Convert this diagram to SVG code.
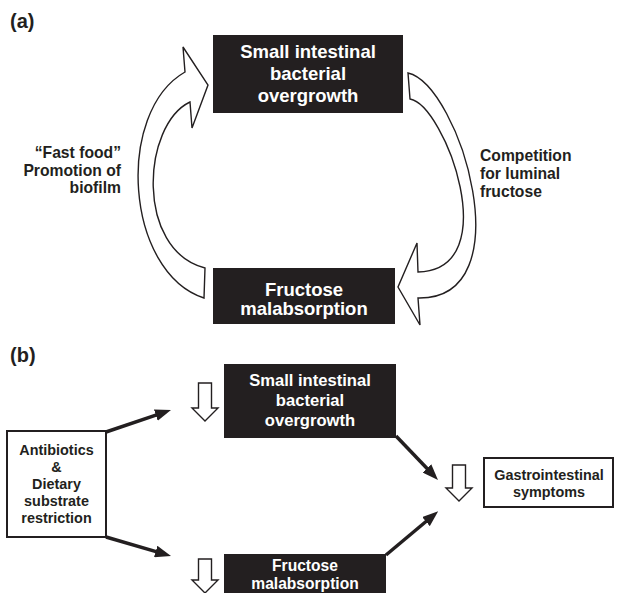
<svg xmlns="http://www.w3.org/2000/svg" width="617" height="593" viewBox="0 0 617 593">
<defs>
<style>
.lbl{font-family:"Liberation Sans",Arial,sans-serif;font-weight:bold;fill:#231f20}
.big{font-size:20px}
.side{font-size:15.7px}
.bx{fill:#231f20}
.bxt{font-family:"Liberation Sans",Arial,sans-serif;font-weight:bold;fill:#fff;text-anchor:middle}
.wbox{fill:#fff;stroke:#231f20;stroke-width:2}
.hollow{fill:#fff;stroke:#231f20;stroke-width:1.4;stroke-linejoin:miter}
.conn{stroke:#231f20;stroke-width:3.5;fill:none}
</style>
<marker id="ah" viewBox="0 0 16 12" markerWidth="16" markerHeight="12" refX="4" refY="6" orient="auto" markerUnits="userSpaceOnUse">
<path d="M0,0 L16,6 L0,12 Z" fill="#231f20"/>
</marker>
</defs>
<rect width="617" height="593" fill="#fff"/>

<text class="lbl big" x="10" y="28">(a)</text>
<text class="lbl big" x="10" y="362">(b)</text>

<g id="a-sibo">
<rect class="bx" x="213" y="35" width="190" height="78"/>
<text class="bxt" font-size="18.5" x="308" y="58">Small intestinal</text>
<text class="bxt" font-size="18.5" x="308" y="80">bacterial</text>
<text class="bxt" font-size="18.5" x="308" y="102">overgrowth</text>
</g>

<g id="a-fm">
<rect class="bx" x="213" y="268" width="182" height="56"/>
<text class="bxt" font-size="18.5" x="304" y="296">Fructose</text>
<text class="bxt" font-size="18.5" x="304" y="315">malabsorption</text>
</g>

<g id="a-connectors">
<path class="hollow" d="M204,298 C125,272 115,112 185,72 L183,47 L208,85 L192,128 L190,102 C142,125 135,250 205,268 Z"/>
<path class="hollow" d="M408,73 C460,85 525,300 418,298 L420,325 L398,287 L417,243 L418,272 C506,270 445,105 410,99 Z"/>
</g>

<g id="a-left-label">
<text class="lbl side" text-anchor="end" x="121" y="158">“Fast food”</text>
<text class="lbl side" text-anchor="end" x="121" y="175.5">Promotion of</text>
<text class="lbl side" text-anchor="end" x="121" y="193">biofilm</text>
</g>

<g id="a-right-label">
<text class="lbl side" x="480" y="161">Competition</text>
<text class="lbl side" x="480" y="179">for luminal</text>
<text class="lbl side" x="480" y="197">fructose</text>
</g>

<g id="b-sibo">
<rect class="bx" x="224" y="364" width="172" height="74"/>
<text class="bxt" font-size="16.6" x="310" y="386">Small intestinal</text>
<text class="bxt" font-size="16.6" x="310" y="406">bacterial</text>
<text class="bxt" font-size="16.6" x="310" y="426">overgrowth</text>
</g>

<g id="b-fm">
<rect class="bx" x="224" y="554" width="162" height="42"/>
<text class="bxt" font-size="15.6" x="305" y="571">Fructose</text>
<text class="bxt" font-size="15.6" x="305" y="589">malabsorption</text>
</g>

<g id="b-treat">
<rect class="wbox" x="7" y="431" width="99" height="106"/>
<text class="lbl" font-size="14.4" text-anchor="middle" x="56.5" y="455">Antibiotics</text>
<text class="lbl" font-size="14.4" text-anchor="middle" x="56.5" y="472">&amp;</text>
<text class="lbl" font-size="14.4" text-anchor="middle" x="56.5" y="489">Dietary</text>
<text class="lbl" font-size="14.4" text-anchor="middle" x="56.5" y="506">substrate</text>
<text class="lbl" font-size="14.4" text-anchor="middle" x="56.5" y="523">restriction</text>
</g>

<g id="b-gi">
<rect class="wbox" x="484" y="458" width="129" height="49"/>
<text class="lbl" font-size="14.4" text-anchor="middle" x="549" y="480">Gastrointestinal</text>
<text class="lbl" font-size="14.4" text-anchor="middle" x="549" y="497">symptoms</text>
</g>

<g id="b-connectors">
<line class="conn" x1="106" y1="432" x2="159.6" y2="413.9" marker-end="url(#ah)"/>
<line class="conn" x1="106" y1="537" x2="159.5" y2="552.6" marker-end="url(#ah)"/>
<line class="conn" x1="396" y1="436" x2="429.7" y2="471.3" marker-end="url(#ah)"/>
<line class="conn" x1="386" y1="555" x2="429" y2="519" marker-end="url(#ah)"/>
<path class="hollow" d="M198.5,383 H211.5 V408 H218 L205,421 L192,408 H198.5 Z"/>
<path class="hollow" d="M198.5,559 H211.5 V580 H218 L205,593 L192,580 H198.5 Z"/>
<path class="hollow" d="M452.5,465 H465.5 V488 H472 L459,501 L446,488 H452.5 Z"/>
</g>
</svg>
